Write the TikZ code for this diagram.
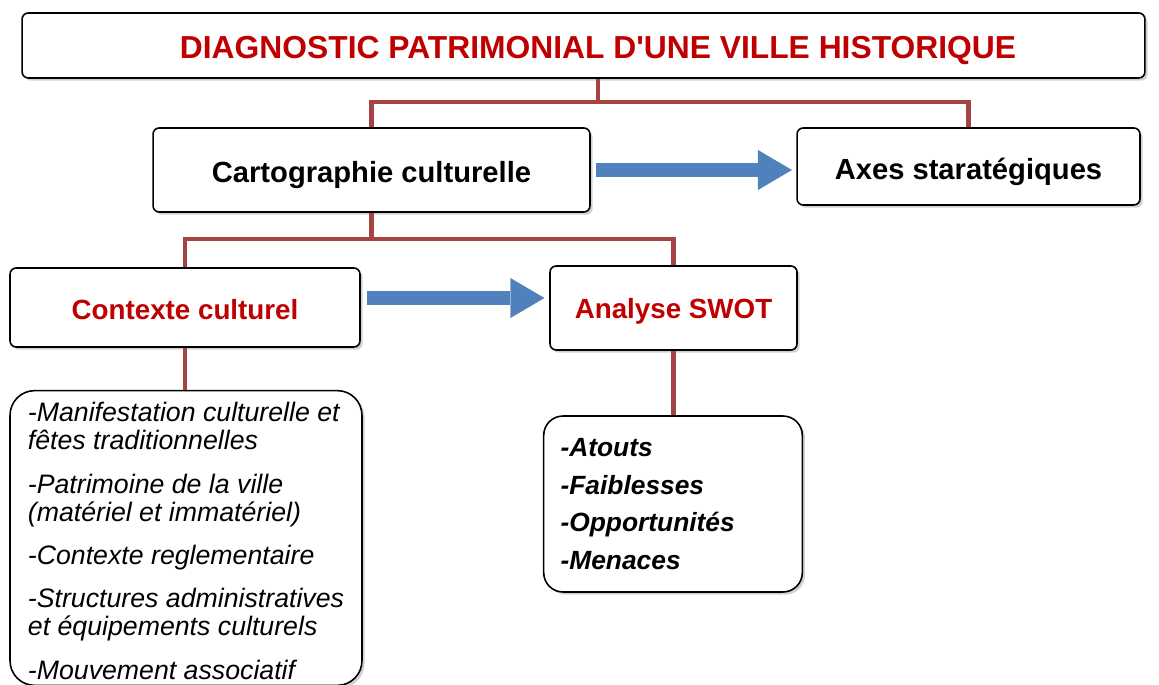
\documentclass[tikz,border=0pt]{standalone}
\usepackage{fontspec}
\setmainfont{Liberation Sans}
\usetikzlibrary{arrows.meta, positioning, shadows}
\definecolor{titlered}{RGB}{192,0,0}
\definecolor{linkred}{RGB}{163,68,66}
\definecolor{arrowblue}{RGB}{79,129,189}

\begin{document}
\begin{tikzpicture}[
    x=0.02cm, y=-0.02cm,
    box/.style={rectangle, rounded corners=3.5pt, draw=black, line width=0.9pt, fill=white, align=center, drop shadow={shadow xshift=1.5pt, shadow yshift=-1.5pt, opacity=0.3, fill=black!60}},
    headbox/.style={box, font=\fontsize{18.1}{21}\selectfont\bfseries, text=titlered, text height=15.5pt, text depth=1.1pt},
    mainbox/.style={box, font=\fontsize{16.6}{19}\selectfont\bfseries},
    subbox/.style={box, font=\fontsize{15.8}{19}\selectfont\bfseries, text=titlered},
    listbox/.style={box, align=left},
    link/.style={draw=linkred, line width=2.5pt},
    bigarrow/.style={draw=arrowblue, line width=7.6pt, -{Triangle[length=19.3pt, width=22.7pt, line width=0.1pt]}}
]
\useasboundingbox (0,0) rectangle (1159,685);
\clip (0,0) rectangle (1159,685);

% Title
\node[headbox, minimum width=22.46cm, minimum height=1.3cm] (diag) at (583.5,45.5) {\hspace*{0.58cm}DIAGNOSTIC PATRIMONIAL D\textquotesingle UNE VILLE HISTORIQUE};

% Second level
\node[mainbox, text height=17.7pt, text depth=3.5pt, minimum width=8.74cm, minimum height=1.68cm] (carto) at (371.5,170) {Cartographie culturelle};
\node[mainbox, text height=18.2pt, text depth=3.5pt, minimum width=6.86cm, minimum height=1.54cm] (axes) at (968.5,166.5) {Axes staratégiques};

% Third level
\node[subbox, text height=13.7pt, text depth=0pt, minimum width=7cm, minimum height=1.58cm] (contexte) at (185,307.5) {Contexte culturel};
\node[subbox, text height=14.9pt, text depth=3.3pt, minimum width=4.94cm, minimum height=1.68cm] (swot) at (673.5,308) {Analyse SWOT};

% Lists
\node[listbox, rounded corners=14pt, minimum width=7.04cm, minimum height=5.8cm, font=\fontsize{15.2}{15.9}\selectfont\itshape] (ctxlist) at (186,538) {
    \rule{0pt}{0.95em}-Manifestation culturelle et\\
    fêtes traditionnelles\\[8.8pt]
    -Patrimoine de la ville\\
    (matériel et immatériel)\\[8.8pt]
    -Contexte reglementaire\\[8.8pt]
    -Structures administratives\\
    et équipements culturels\\[8.8pt]
    -Mouvement associatif
};
\node[listbox, rounded corners=11pt, text width=128pt, inner xsep=9.6pt, minimum height=3.52cm, font=\fontsize{15}{21.4}\selectfont\bfseries\itshape] (swotlist) at (673,504) {
    -Atouts\\
    -Faiblesses\\
    -Opportunités\\
    -Menaces
};

% Connectors
\path (diag.south) ++(14.5,23) coordinate (top-joint);
\draw[link] (diag.south -| top-joint) -- (top-joint);
\draw[link] (carto.north) |- (top-joint) -| (axes.north);
\path (carto.south) ++(0,26) coordinate (mid-joint);
\draw[link] (carto.south) -- (mid-joint);
\draw[link] (contexte.north) |- (mid-joint) -| (swot.north);
\draw[link] (contexte.south) -- (contexte.south |- ctxlist.north);
\draw[link] (swot.south) -- (swot.south |- swotlist.north);

% Arrows
\draw[bigarrow] ([xshift=2.8pt]carto.east) -- ([xshift=-2.5pt]carto.east -| axes.west);
\draw[bigarrow] ([xshift=3.4pt, yshift=5.4pt]contexte.east) -- ([xshift=-2.8pt, yshift=5.4pt]contexte.east -| swot.west);

\end{tikzpicture}
\end{document}
